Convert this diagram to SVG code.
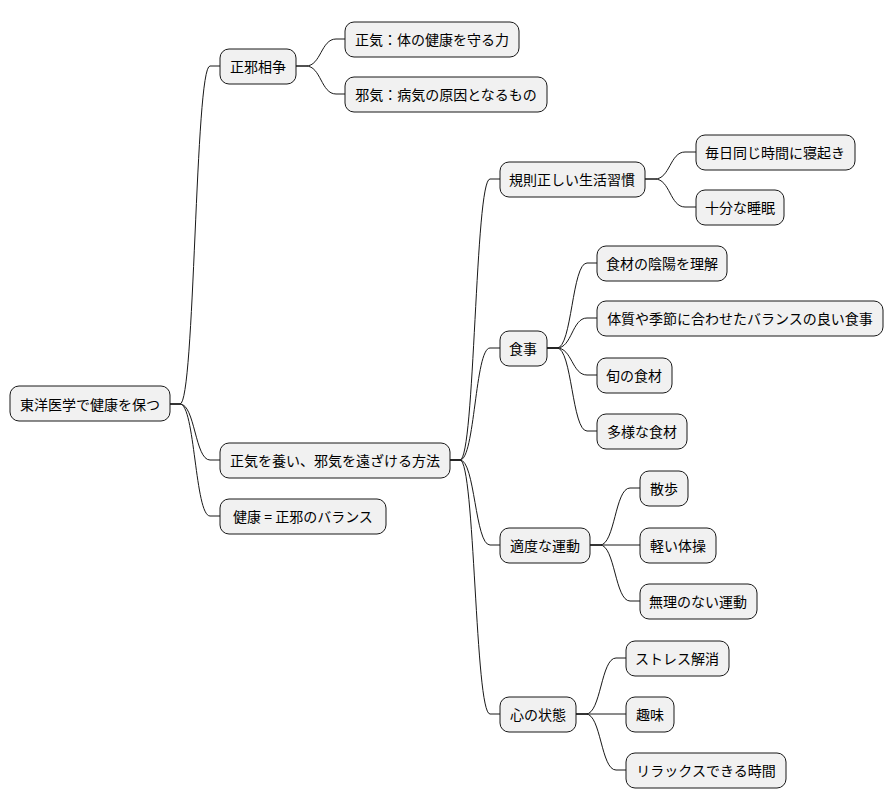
<svg xmlns="http://www.w3.org/2000/svg" width="894" height="809" viewBox="0 0 894 809">
<style>
.n rect{fill:#F1F1F1;stroke:#181818;stroke-width:1}
.n text{font-family:"Noto Sans CJK JP","Noto Sans",sans-serif;font-size:14px;fill:#000;text-anchor:middle;dominant-baseline:central}
.c path{fill:none;stroke:#181818;stroke-width:1}
</style>
<rect width="894" height="809" fill="#FFFFFF"/>
<g class="c">
<path d="M170,404 L180,404 C195,404 195,66 210,66 L220,66"/>
<path d="M170,404 L180,404 C195,404 195,460 210,460 L220,460"/>
<path d="M170,404 L180,404 C195,404 195,516 210,516 L220,516"/>
<path d="M296,66 L306,66 C321,66 321,39 336,39 L345,39"/>
<path d="M296,66 L306,66 C321,66 321,94 336,94 L345,94"/>
<path d="M450,460 L460,460 C475,460 475,179 490,179 L500,179"/>
<path d="M450,460 L460,460 C475,460 475,348 490,348 L500,348"/>
<path d="M450,460 L460,460 C475,460 475,545 490,545 L500,545"/>
<path d="M450,460 L460,460 C475,460 475,714 490,714 L500,714"/>
<path d="M645,179 L655,179 C670,179 670,152 685,152 L696,152"/>
<path d="M645,179 L655,179 C670,179 670,207 685,207 L696,207"/>
<path d="M547,348 L557,348 C572,348 572,263 587,263 L597,263"/>
<path d="M547,348 L557,348 C572,348 572,318 587,318 L597,318"/>
<path d="M547,348 L557,348 C572,348 572,375 587,375 L597,375"/>
<path d="M547,348 L557,348 C572,348 572,431 587,431 L597,431"/>
<path d="M590,545 L600,545 C615,545 615,488 630,488 L640,488"/>
<path d="M590,545 L640,545"/>
<path d="M590,545 L600,545 C615,545 615,601 630,601 L640,601"/>
<path d="M576,714 L586,714 C601,714 601,658 616,658 L626,658"/>
<path d="M576,714 L626,714"/>
<path d="M576,714 L586,714 C601,714 601,770 616,770 L626,770"/>
</g>
<g id="root" class="n"><rect x="10" y="386" width="160" height="35" rx="9"/><text x="90" y="404">東洋医学で健康を保つ</text></g>
<g id="n1" class="n"><rect x="220" y="49" width="76" height="35" rx="9"/><text x="258" y="66">正邪相争</text></g>
<g id="n1a" class="n"><rect x="345" y="22" width="174" height="35" rx="9"/><text x="432" y="39">正気：体の健康を守る力</text></g>
<g id="n1b" class="n"><rect x="345" y="77" width="202" height="35" rx="9"/><text x="446" y="94">邪気：病気の原因となるもの</text></g>
<g id="n2" class="n"><rect x="220" y="443" width="230" height="35" rx="9"/><text x="335" y="460">正気を養い、邪気を遠ざける方法</text></g>
<g id="n3" class="n"><rect x="220" y="499" width="166" height="35" rx="9"/><text x="303" y="516">健康 = 正邪のバランス</text></g>
<g id="n2a" class="n"><rect x="500" y="162" width="145" height="35" rx="9"/><text x="572" y="179">規則正しい生活習慣</text></g>
<g id="n2a1" class="n"><rect x="696" y="135" width="159" height="35" rx="9"/><text x="775" y="152">毎日同じ時間に寝起き</text></g>
<g id="n2a2" class="n"><rect x="696" y="190" width="88" height="35" rx="9"/><text x="740" y="207">十分な睡眠</text></g>
<g id="n2b" class="n"><rect x="500" y="331" width="47" height="35" rx="9"/><text x="523" y="348">食事</text></g>
<g id="n2b1" class="n"><rect x="597" y="246" width="130" height="35" rx="9"/><text x="662" y="263">食材の陰陽を理解</text></g>
<g id="n2b2" class="n"><rect x="597" y="301" width="286" height="35" rx="9"/><text x="740" y="318">体質や季節に合わせたバランスの良い食事</text></g>
<g id="n2b3" class="n"><rect x="597" y="358" width="75" height="35" rx="9"/><text x="634" y="375">旬の食材</text></g>
<g id="n2b4" class="n"><rect x="597" y="414" width="90" height="35" rx="9"/><text x="642" y="431">多様な食材</text></g>
<g id="n2c" class="n"><rect x="500" y="528" width="90" height="35" rx="9"/><text x="545" y="545">適度な運動</text></g>
<g id="n2c1" class="n"><rect x="640" y="471" width="48" height="35" rx="9"/><text x="664" y="488">散歩</text></g>
<g id="n2c2" class="n"><rect x="640" y="528" width="76" height="35" rx="9"/><text x="678" y="545">軽い体操</text></g>
<g id="n2c3" class="n"><rect x="640" y="584" width="117" height="35" rx="9"/><text x="698" y="601">無理のない運動</text></g>
<g id="n2d" class="n"><rect x="500" y="697" width="76" height="35" rx="9"/><text x="538" y="714">心の状態</text></g>
<g id="n2d1" class="n"><rect x="626" y="641" width="103" height="35" rx="9"/><text x="677" y="658">ストレス解消</text></g>
<g id="n2d2" class="n"><rect x="626" y="697" width="48" height="35" rx="9"/><text x="650" y="714">趣味</text></g>
<g id="n2d3" class="n"><rect x="626" y="753" width="160" height="35" rx="9"/><text x="706" y="770">リラックスできる時間</text></g>
</svg>
